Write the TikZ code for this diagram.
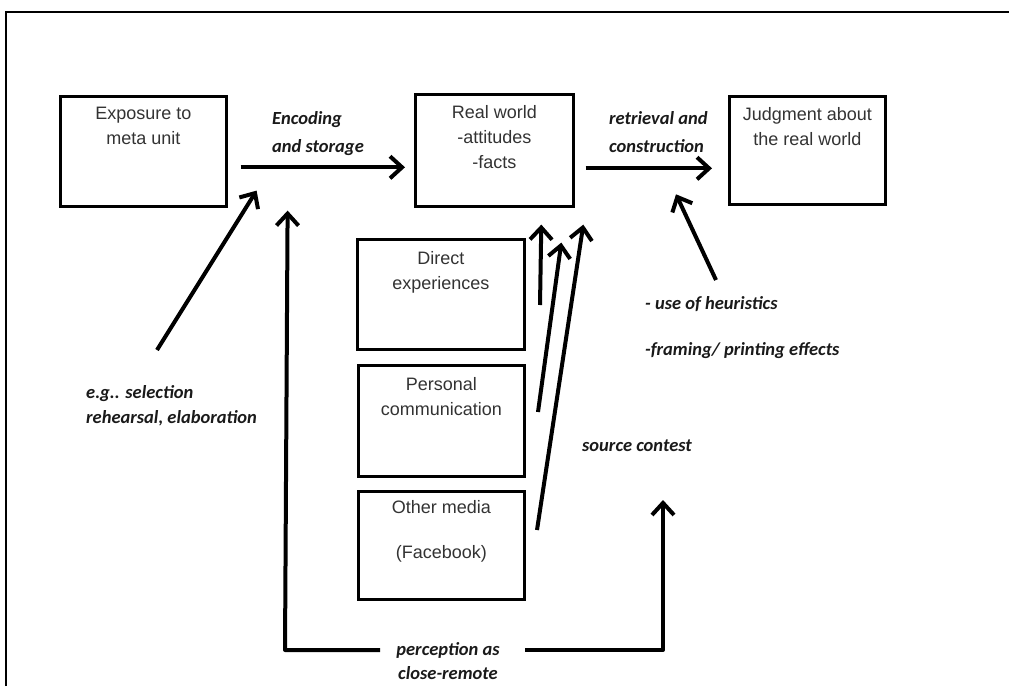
\documentclass[tikz,border=0pt]{standalone}
\usepackage{fontspec}
\setmainfont{Liberation Sans}
\newfontfamily\labfont{Carlito}
\usetikzlibrary{arrows.meta,calc}
\definecolor{boxtext}{HTML}{333333}
\definecolor{labtext}{HTML}{1A1A1A}
\begin{document}
\begin{tikzpicture}[x=1pt,y=-1pt,
  box/.style={draw, line width=2.6pt, inner sep=0pt, anchor=north west, minimum width=#1},
  btxt/.style={font=\fontsize{18}{25}\selectfont, text=boxtext, align=center, inner sep=0pt, anchor=north},
  lab/.style={font=\labfont\bfseries\itshape\fontsize{18.5}{22}\selectfont, text=labtext, inner sep=0pt, anchor=base west},
  labc/.style={font=\labfont\bfseries\itshape\fontsize{18.5}{22}\selectfont, text=labtext, inner sep=0pt, anchor=base},
  arr/.style={line width=4pt, -{Straight Barb[length=12pt,width=22pt,line width=4pt]}}
]
\useasboundingbox (0,0) rectangle (1009,686);
\fill[white] (0,0) rectangle (1009,686);
\draw[line width=2.8pt] (6,686) -- (6,12) -- (1009,12);

% boxes
\node[box=166pt, minimum height=110pt] (exp) at (59,95) {};
\node[box=158pt, minimum height=112pt] (real) at (414,93) {};
\node[box=156pt, minimum height=108pt] (judg) at (728,95) {};
\node[box=167pt, minimum height=110pt] (dir) at (356,238) {};
\node[box=166pt, minimum height=111pt] (pers) at (357,364) {};
\node[box=166pt, minimum height=108pt] (oth) at (357,490) {};

% box texts
\node[btxt] (expT) at ($(exp.north)+(0,12)$) {Exposure to\\meta unit};
\node[btxt] (realT) at ($(real.north)+(0,12)$) {Real world\\-attitudes\\-facts};
\node[btxt] (judgT) at ($(judg.north)+(0,12)$) {Judgment about\\the real world};
\node[btxt] (dirT) at ($(dir.north)+(0,13)$) {Direct\\experiences};
\node[btxt] (persT) at ($(pers.north)+(0,13)$) {Personal\\communication};
\node[btxt] (othT) at ($(oth.north)+(0,10)$) {Other media\\[20pt](Facebook)};

% labels
\node[lab] (enc1) at (272,124) {Encoding};
\node[lab] (enc2) at (272,152) {and storage};
\node[lab] (ret1) at (609,124) {retrieval and};
\node[lab] (ret2) at (609,152) {construction};
\node[lab] (heu1) at (645,309) {- use of heuristics};
\node[lab] (heu2) at (645,355) {-framing/ printing effects};
\node[lab] (src) at (582,451) {source contest};
\node[lab] (eg1) at (86,398) {e.g.. selection};
\node[lab] (eg2) at (86,423) {rehearsal, elaboration};
\node[labc] (perc1) at (448,655) {perception as};
\node[labc] (perc2) at (448,679) {close-remote};

% main arrows
\draw[arr] ($(exp.east)+(13,16)$) -- ($(real.west)+(-9,17)$);
\draw[arr] ($(real.east)+(11,18)$) -- ($(judg.west)+(-16,18)$);

% arrows into real world
\coordinate (a1) at (540,305);
\coordinate (a2) at (538,412);
\coordinate (a3) at (537,530);
\draw[arr] (a1) -- ($(real.south)+(47,17)$);
\draw[arr] (a2) -- ($(real.south)+(67,35)$);
\draw[arr] (a3) -- ($(real.south)+(89,17)$);

% influence arrows
\coordinate (egT) at (157,350);
\draw[arr] (egT) -- ($(exp.south east)+(29,-17)$);
\coordinate (heuT) at (716,280);
\draw[arr] (heuT) -- ($(judg.west)+(-52,44)$);

% feedback
\coordinate (fl) at (380,650);
\coordinate (fr) at (525,650);
\draw[arr, line join=round] (fl) -- (285,650) -- ($(exp.south east)+(60,3)$);
\draw[arr, line join=round] (fr) -- (663,650) -- (663,500);
\end{tikzpicture}
\end{document}
